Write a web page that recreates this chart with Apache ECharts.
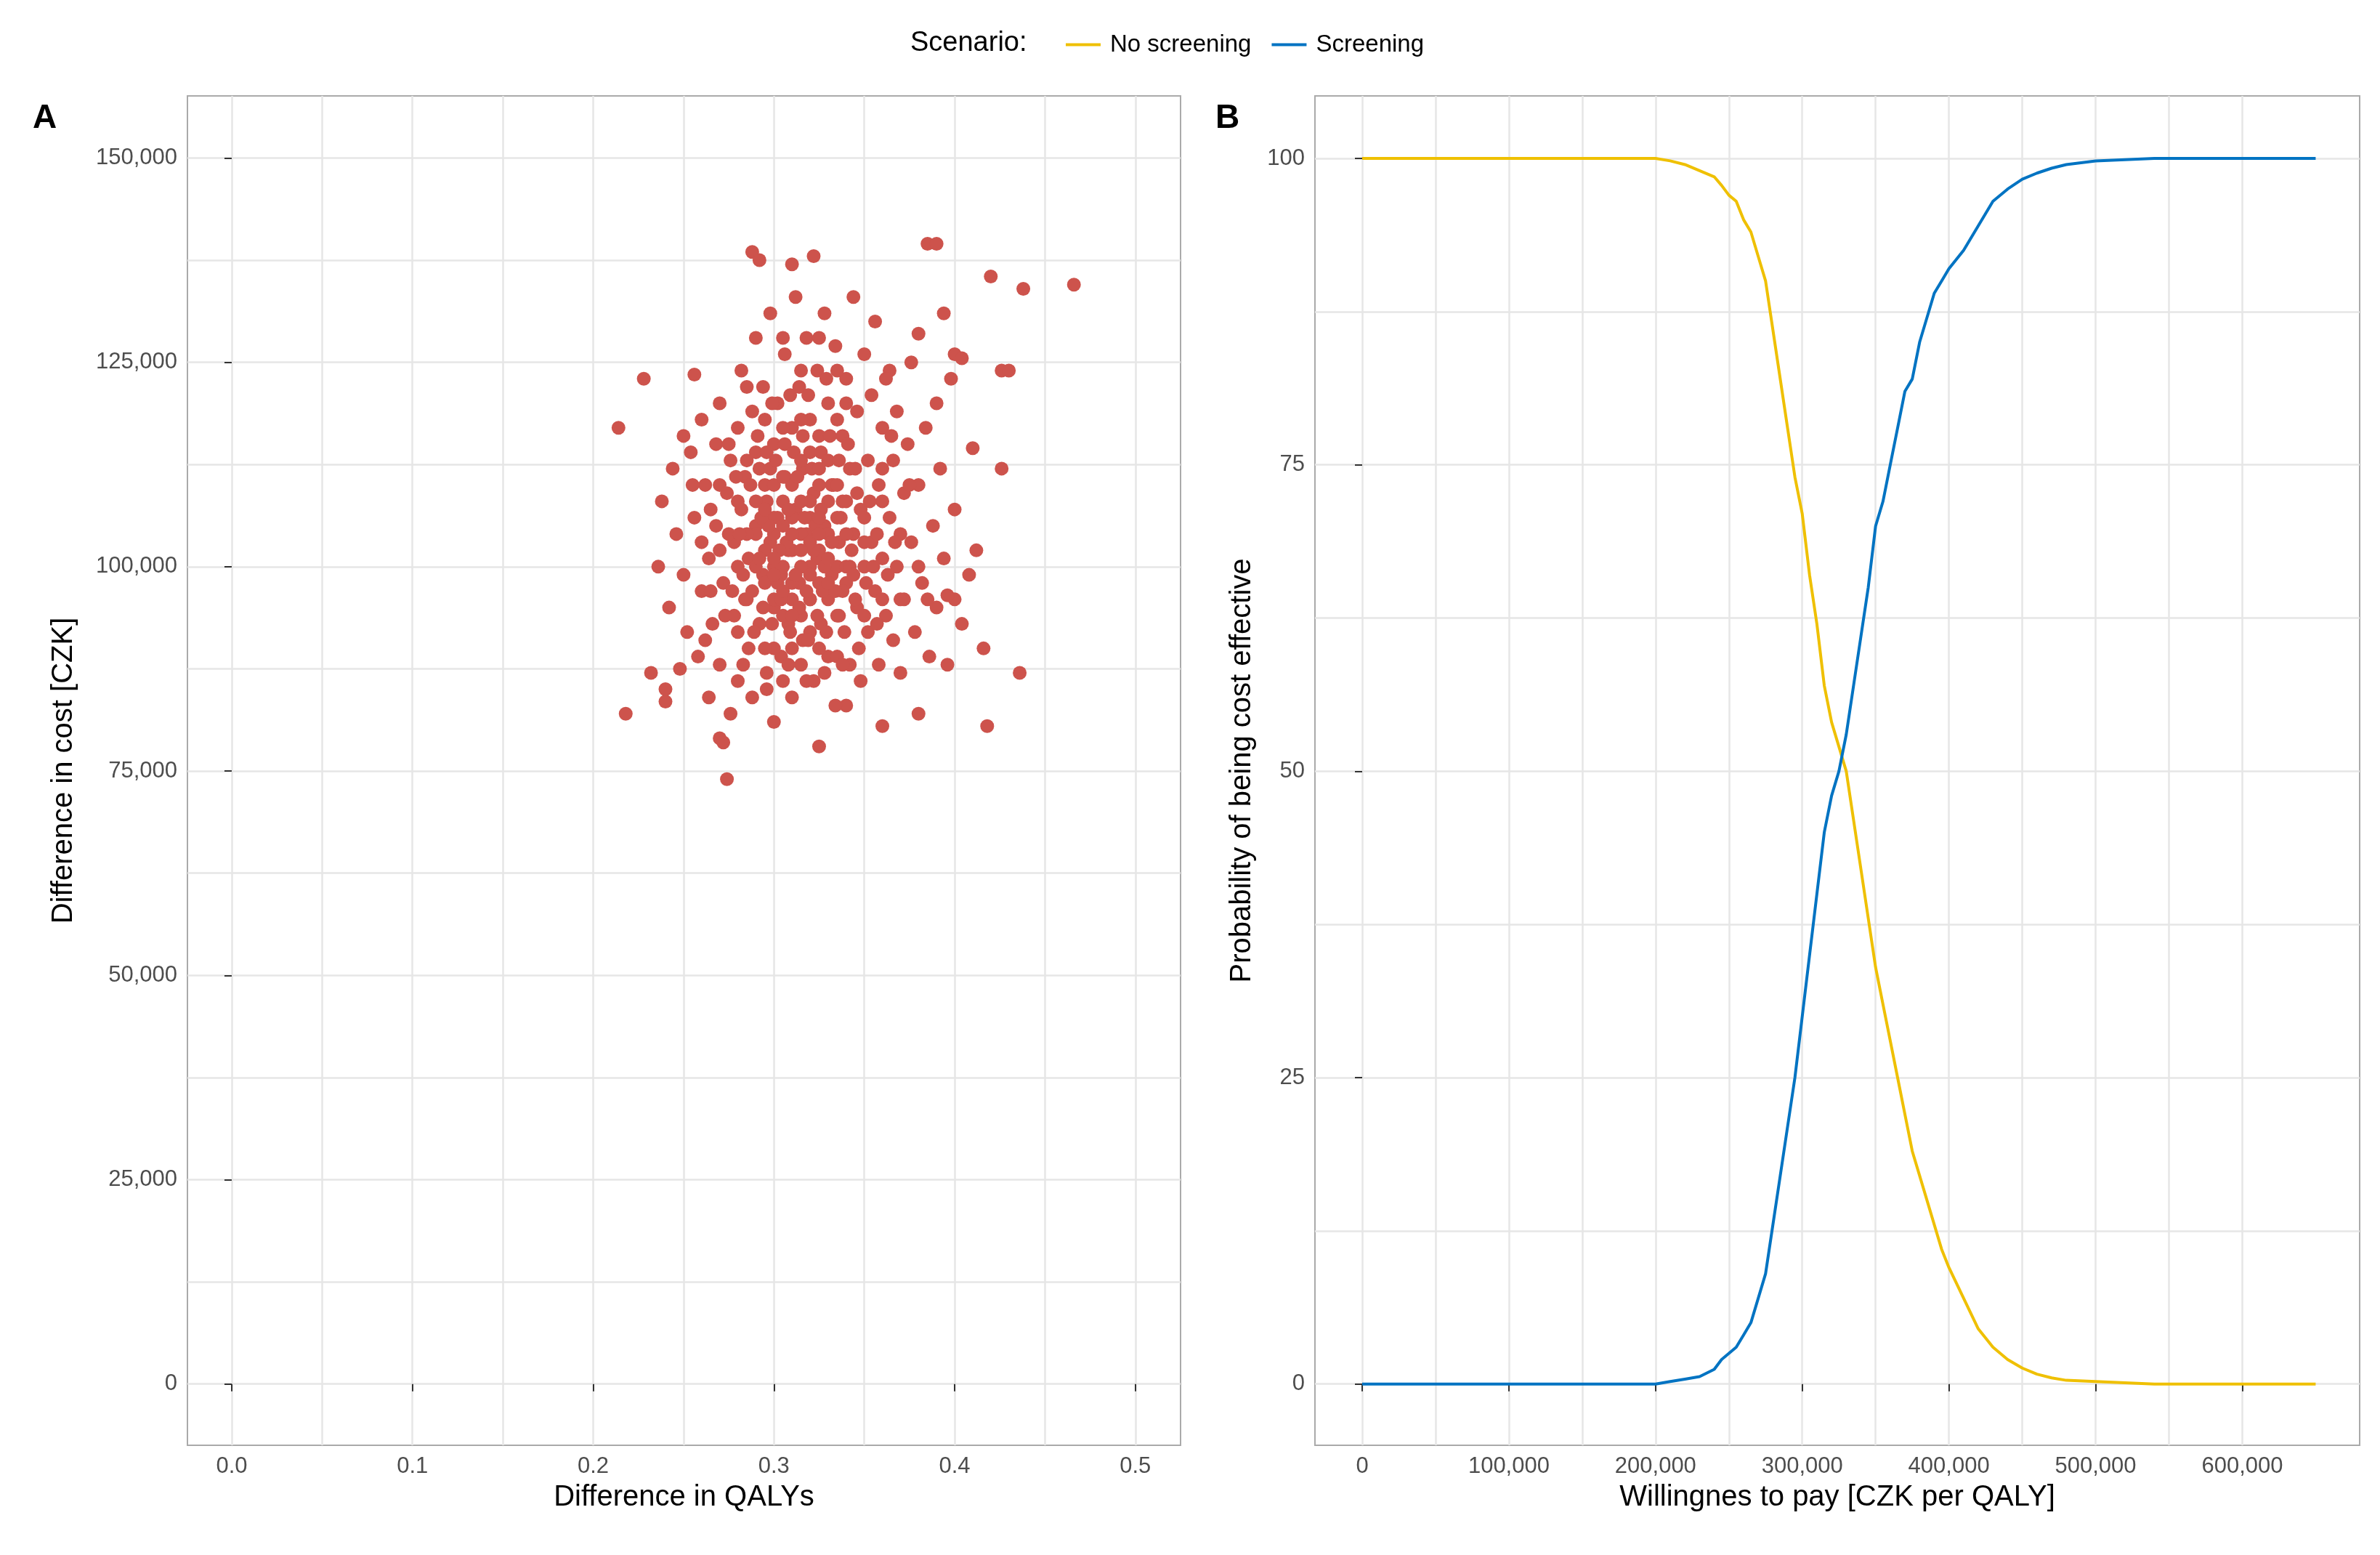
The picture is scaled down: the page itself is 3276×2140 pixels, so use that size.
<!DOCTYPE html>
<html><head><meta charset="utf-8">
<script src="https://cdn.jsdelivr.net/npm/echarts@6/dist/echarts.min.js"></script>
<style>html,body{margin:0;padding:0;background:#fff}#c{width:3276px;height:2140px}</style>
</head><body><div id="c"></div>
<script>
const qalyTicks=[0,0.1,0.2,0.3,0.4,0.5];
const qalyGrid=[0,0.05,0.1,0.15,0.2,0.25,0.3,0.35,0.4,0.45,0.5];
const costTicks=[0,25000,50000,75000,100000,125000,150000];
const costGrid=[0,12500,25000,37500,50000,62500,75000,87500,100000,112500,125000,137500,150000];
const wtpTicks=[0,100000,200000,300000,400000,500000,600000];
const wtpGrid=[0,50000,100000,150000,200000,250000,300000,350000,400000,450000,500000,550000,600000];
const probTicks=[0,25,50,75,100];
const probGrid=[0,12.5,25,37.5,50,62.5,75,87.5,100];
const psa=[
[0.214,117000],[0.218,82000],[0.228,123000],[0.232,87000],[0.24,85000],[0.24,83500],[0.248,87500],[0.256,123500],[0.27,79000],[0.272,78500],[0.274,74000],[0.288,138500],[0.292,137500],[0.31,137000],[0.322,138000],[0.325,78000],[0.385,139500],[0.39,139500],[0.42,135500],[0.438,134000],[0.466,134500],[0.426,124000],[0.43,124000],[0.41,114500],[0.426,112000],[0.418,80500],[0.436,87000],[0.416,90000],[0.4,96000],[0.396,96500],[0.38,82000],[0.36,80500],[0.34,83000],[0.4,126000],[0.404,125500],[0.398,123000],[0.376,125000],[0.394,131000],[0.38,128500],[0.364,124000],
[0.236,100000],[0.238,108000],[0.242,95000],[0.244,112000],[0.246,104000],[0.25,99000],[0.252,92000],[0.254,114000],[0.256,106000],[0.258,89000],[0.26,118000],[0.26,97000],[0.262,110000],[0.264,84000],[0.264,101000],[0.266,93000],[0.268,115000],[0.268,105000],[0.27,88000],[0.27,120000],[0.272,98000],[0.274,109000],[0.276,82000],[0.276,113000],[0.278,94000],[0.278,103000],[0.28,117000],[0.28,86000],[0.282,107000],[0.282,124000],[0.284,96000],[0.284,111000],[0.286,90000],[0.286,101000],[0.288,119000],[0.288,84000],[0.29,105000],[0.29,128000],[0.292,93000],[0.292,112000],[0.294,99000],[0.294,122000],[0.296,87000],[0.296,108000],[0.298,103000],[0.298,131000],[0.3,95000],[0.3,115000],[0.3,81000],[0.302,106000],[0.302,120000],[0.304,99000],[0.304,89000],[0.306,111000],[0.306,126000],[0.308,102000],[0.308,93000],[0.31,117000],[0.31,84000],[0.312,107000],[0.312,133000],[0.314,98000],[0.314,122000],[0.316,91000],[0.316,112000],[0.318,104000],[0.318,128000],[0.32,96000],[0.32,118000],[0.322,86000],[0.322,109000],[0.324,101000],[0.324,124000],[0.326,93000],[0.326,114000],[0.328,105000],[0.328,131000],[0.33,89000],[0.33,120000],[0.332,99000],[0.332,110000],[0.334,83000],[0.334,127000],[0.336,103000],[0.336,94000],[0.338,116000],[0.338,108000],[0.34,98000],[0.34,123000],[0.342,88000],[0.342,112000],[0.344,104000],[0.344,133000],[0.346,95000],[0.346,119000],[0.348,107000],[0.348,86000],[0.35,100000],[0.35,126000],[0.352,113000],[0.352,92000],[0.354,121000],[0.354,103000],[0.356,97000],[0.356,130000],[0.358,110000],[0.358,88000],[0.36,117000],[0.36,101000],[0.362,94000],[0.362,123000],[0.364,106000],[0.366,113000],[0.366,91000],[0.368,100000],[0.368,119000],[0.37,87000],[0.372,109000],[0.372,96000],[0.374,115000],[0.376,103000],[0.378,92000],[0.38,110000],[0.382,98000],[0.384,117000],[0.386,89000],[0.388,105000],[0.39,95000],[0.392,112000],[0.394,101000],[0.396,88000],[0.4,107000],[0.404,93000],[0.408,99000],[0.412,102000],
[0.29,100000],[0.295,102000],[0.3,104000],[0.305,100000],[0.31,102000],[0.315,104000],[0.32,100000],[0.325,102000],[0.33,104000],[0.335,100000],[0.29,108000],[0.295,110000],[0.3,96000],[0.305,94000],[0.31,96000],[0.315,94000],[0.32,108000],[0.325,110000],[0.33,96000],[0.335,94000],[0.3,110000],[0.31,110000],[0.32,92000],[0.3,90000],[0.31,90000],[0.32,114000],[0.33,113000],[0.29,114000],[0.28,100000],[0.28,108000],[0.34,100000],[0.34,108000],[0.345,96000],[0.285,96000],[0.295,118000],[0.305,117000],[0.315,118000],[0.325,116000],[0.335,118000],[0.295,90000],[0.315,88000],[0.325,90000],[0.335,89000],[0.305,86000],[0.275,104000],[0.345,112000],[0.35,106000],[0.27,110000],[0.265,97000],[0.355,100000],[0.36,108000],[0.285,122000],[0.315,124000],[0.335,124000],[0.305,128000],[0.325,128000],[0.3,106000],[0.31,98000],[0.32,106000],[0.33,108000],[0.29,104000],[0.3,100000],[0.32,96000],[0.34,104000],[0.28,92000],[0.35,94000],[0.36,96000],[0.26,103000],[0.255,110000],[0.25,116000],[0.365,116000],[0.37,104000],[0.375,110000],[0.38,100000],[0.385,96000],[0.39,120000],[0.31,106000],[0.315,100000],[0.325,98000],[0.305,108000],[0.295,98000],[0.285,104000],
[0.288,97000],[0.292,101000],[0.297,105000],[0.302,98000],[0.307,103000],[0.312,99000],[0.317,106000],[0.322,102000],[0.327,97000],[0.332,103000],[0.337,106000],[0.342,100000],[0.287,110000],[0.293,106000],[0.298,112000],[0.303,102000],[0.308,107000],[0.313,111000],[0.318,97000],[0.323,105000],[0.328,100000],[0.333,110000],[0.338,97000],[0.343,102000],[0.289,92000],[0.294,95000],[0.299,93000],[0.304,96000],[0.309,92000],[0.314,95000],[0.319,91000],[0.324,94000],[0.329,92000],[0.334,97000],[0.339,92000],[0.344,99000],[0.291,116000],[0.296,114000],[0.301,113000],[0.306,115000],[0.311,114000],[0.316,116000],[0.321,112000],[0.326,107000],[0.331,116000],[0.336,113000],[0.341,115000],[0.346,109000],[0.283,99000],[0.281,104000],[0.279,111000],[0.277,97000],[0.35,103000],[0.353,108000],[0.357,104000],[0.351,98000],[0.296,85000],[0.308,88000],[0.318,86000],[0.328,87000],[0.338,88000],[0.299,120000],[0.309,121000],[0.319,121000],[0.329,123000],[0.34,120000],[0.31,104000],[0.32,103000],[0.3,101000],[0.33,101000],[0.305,105000],[0.315,108000],[0.325,104000],[0.295,107000],[0.335,106000],[0.31,94000],[0.32,99000],[0.3,99000],[0.33,98000],[0.315,102000],[0.305,97000],[0.325,106000],[0.315,113000],[0.305,111000],[0.325,112000],[0.335,110000],[0.285,113000],[0.275,115000],[0.27,102000],[0.265,107000],[0.36,112000],[0.363,99000],[0.367,103000],[0.37,96000],[0.262,91000],[0.273,94000],[0.283,88000],[0.347,90000],[0.357,93000]
];
const wtp=[0,180000,200000,210000,220000,230000,240000,245000,250000,255000,260000,265000,270000,275000,280000,285000,290000,295000,300000,305000,310000,315000,320000,325000,330000,335000,340000,345000,350000,355000,360000,365000,370000,375000,380000,385000,390000,395000,400000,410000,420000,430000,440000,450000,460000,470000,480000,500000,540000,650000];
const noScreening=[100,100,100,99.8,99.5,99,98.5,97.8,97,96.5,95,94,92,90,86,82,78,74,71,66,62,57,54,52,50,46,42,38,34,31,28,25,22,19,17,15,13,11,9.5,7,4.5,3,2,1.3,0.8,0.5,0.3,0.2,0,0];
const screening=[0,0,0,0.2,0.4,0.6,1.2,2,2.5,3,4,5,7,9,13,17,21,25,30,35,40,45,48,50,53,57,61,65,70,72,75,78,81,82,85,87,89,90,91,92.5,94.5,96.5,97.5,98.3,98.8,99.2,99.5,99.8,100,100];

const grey='#4d4d4d', gl='#e6e6e6', font='Liberation Sans';
function mkAxes(type,gi,min,max,ticks,grid,fmt,name,nameGap){
  const pos = type==='x'?'bottom':'left';
  const main={gridIndex:gi,type:'value',min:min,max:max,position:pos,
    name:name,nameLocation:'middle',nameGap:nameGap,
    nameTextStyle:{fontFamily:font,fontSize:40,color:'#000'},
    axisLine:{show:false},
    axisTick:{show:true,length:10,lineStyle:{color:'#333',width:2},customValues:ticks},
    axisLabel:{fontFamily:font,fontSize:31,color:grey,margin:14,formatter:fmt,customValues:ticks},
    splitLine:{show:false}};
  const g={gridIndex:gi,type:'value',min:min,max:max,position:pos,
    axisLine:{show:false},axisLabel:{show:false},
    axisTick:{show:false,customValues:grid},
    splitLine:{show:true,lineStyle:{color:gl,width:2.5}}};
  return [main,g];
}
const fmtK=v=>v.toLocaleString('en-US');
const fmtQ=v=>v.toFixed(1);
const ax=mkAxes('x',0,-0.0245,0.525,qalyTicks,qalyGrid,fmtQ,'Difference in QALYs',52);
const ay=mkAxes('y',0,-7500,157600,costTicks,costGrid,fmtK,'Difference in cost [CZK]',150);
const bx=mkAxes('x',1,-32200,680000,wtpTicks,wtpGrid,fmtK,'Willingnes to pay [CZK per QALY]',52);
const by=mkAxes('y',1,-5,105.1,probTicks,probGrid,v=>String(v),'Probability of being cost effective',80);
const chart=echarts.init(document.getElementById('c'),null,{renderer:'canvas'});
chart.setOption({
  backgroundColor:'#fff',animation:false,
  grid:[{left:258,top:132,width:1367,height:1857,show:true,borderColor:'#aaa',borderWidth:2,backgroundColor:'transparent'},
        {left:1810,top:132,width:1438,height:1857,show:true,borderColor:'#aaa',borderWidth:2,backgroundColor:'transparent'}],
  xAxis:[ax[0],ax[1],bx[0],bx[1]],
  yAxis:[ay[0],ay[1],by[0],by[1]],
  title:[{text:'Scenario:',left:1248,top:36,textStyle:{fontFamily:font,fontSize:38,fontWeight:'normal',color:'#000'}},
         {text:'A',left:40,top:135,textStyle:{fontFamily:font,fontSize:46,fontWeight:'bold',color:'#000'}},
         {text:'B',left:1668,top:135,textStyle:{fontFamily:font,fontSize:46,fontWeight:'bold',color:'#000'}}],
  legend:{left:1462,top:40,icon:'rect',itemWidth:48,itemHeight:4,itemGap:28,
    textStyle:{fontFamily:font,fontSize:33,color:'#000',padding:[0,0,0,8]},data:['No screening','Screening']},
  series:[
    {type:'scatter',xAxisIndex:0,yAxisIndex:0,data:psa,symbolSize:19,itemStyle:{color:'#CD534C',opacity:1}},
    {name:'No screening',type:'line',xAxisIndex:2,yAxisIndex:2,data:wtp.map((w,i)=>[w,noScreening[i]]),showSymbol:false,lineStyle:{color:'#EFC000',width:4},itemStyle:{color:'#EFC000'}},
    {name:'Screening',type:'line',xAxisIndex:2,yAxisIndex:2,data:wtp.map((w,i)=>[w,screening[i]]),showSymbol:false,lineStyle:{color:'#0073C2',width:4},itemStyle:{color:'#0073C2'}}
  ]
});
</script></body></html>
